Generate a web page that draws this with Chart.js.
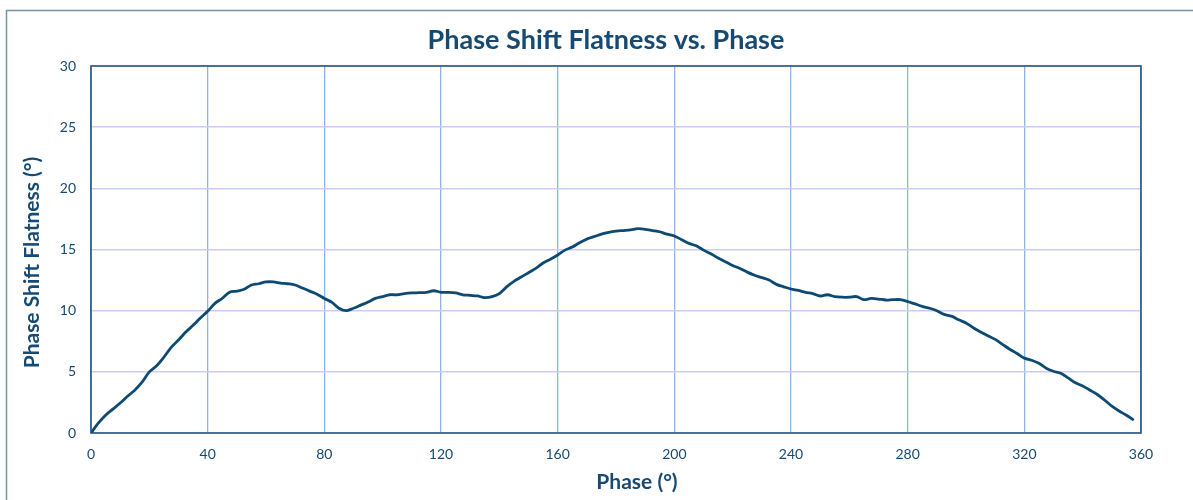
<!DOCTYPE html>
<html>
<head>
<meta charset="utf-8">
<script src="https://cdn.jsdelivr.net/npm/chart.js@4/dist/chart.umd.min.js"></script>
<style>
  html, body { margin: 0; padding: 0; background: #fff; }
  #wrap { width: 1193px; height: 500px; }
</style>
</head>
<body>
<div id="wrap"><canvas id="phaseChart"></canvas></div>
<script>
const phase = [
  0, 2.5, 5, 7.5, 10, 12.5, 15, 17.5, 20, 22.5, 25, 27.5, 30, 32.5, 35, 37.5,
  40, 42.5, 45, 47.5, 50, 52.5, 55, 57.5, 60, 62.5, 65, 67.5, 70, 72.5, 75, 77.5,
  80, 82.5, 85, 87.5, 90, 92.5, 95, 97.5, 100, 102.5, 105, 107.5, 110, 112.5, 115, 117.5,
  120, 122.5, 125, 127.5, 130, 132.5, 135, 137.5, 140, 142.5, 145, 147.5, 150, 152.5, 155, 157.5,
  160, 162.5, 165, 167.5, 170, 172.5, 175, 177.5, 180, 182.5, 185, 187.5, 190, 192.5, 195, 197.5,
  200, 202.5, 205, 207.5, 210, 212.5, 215, 217.5, 220, 222.5, 225, 227.5, 230, 232.5, 235, 237.5,
  240, 242.5, 245, 247.5, 250, 252.5, 255, 257.5, 260, 262.5, 265, 267.5, 270, 272.5, 275, 277.5,
  280, 282.5, 285, 287.5, 290, 292.5, 295, 297.5, 300, 302.5, 305, 307.5, 310, 312.5, 315, 317.5,
  320, 322.5, 325, 327.5, 330, 332.5, 335, 337.5, 340, 342.5, 345, 347.5, 350, 352.5, 355, 357.5
]
const flatness = [
  0, 0.8, 1.45, 1.95, 2.45, 3.0, 3.5, 4.15, 5.0, 5.5, 6.2, 7.0, 7.6, 8.25, 8.8, 9.4,
  9.95, 10.6, 11.0, 11.5, 11.6, 11.75, 12.1, 12.2, 12.35, 12.35, 12.25, 12.2, 12.1, 11.85, 11.6, 11.35,
  11.0, 10.7, 10.2, 10.0, 10.2, 10.45, 10.7, 11.0, 11.15, 11.3, 11.3, 11.4, 11.45, 11.47, 11.5, 11.63,
  11.5, 11.5, 11.45, 11.3, 11.25, 11.2, 11.07, 11.15, 11.4, 11.95, 12.4, 12.75, 13.1, 13.45, 13.9, 14.2,
  14.55, 14.95, 15.2, 15.55, 15.85, 16.05, 16.25, 16.4, 16.5, 16.55, 16.6, 16.7, 16.65, 16.55, 16.45, 16.25,
  16.1, 15.8, 15.5, 15.3, 14.95, 14.65, 14.3, 14.0, 13.7, 13.45, 13.15, 12.9, 12.7, 12.5, 12.15, 11.95,
  11.77, 11.65, 11.5, 11.4, 11.2, 11.3, 11.15, 11.1, 11.1, 11.15, 10.9, 11.0, 10.95, 10.87, 10.9, 10.9,
  10.75, 10.55, 10.35, 10.2, 10.0, 9.7, 9.55, 9.25, 9.0, 8.6, 8.25, 7.95, 7.65, 7.25, 6.85, 6.5,
  6.12, 5.95, 5.7, 5.3, 5.05, 4.88, 4.5, 4.1, 3.85, 3.5, 3.15, 2.7, 2.2, 1.8, 1.45, 1.05
]
const xTicks = [0, 40, 80, 120, 160, 200, 240, 280, 320, 360]
const yTicks = [0, 5, 10, 15, 20, 25, 30]
const xTitle = 'Phase (°)'
const yTitle = 'Phase Shift Flatness (°)'

const textColor = '#174a72'
const fontName = 'Lato'

// frame round the whole chart, dark box round the plot, and the two axis titles
// (drawn here because in the original they sit off-centre from the plot)
const frames = {
  id: 'frames',
  beforeDraw(chart) {
    const ctx = chart.ctx
    ctx.save()
    ctx.fillStyle = '#fff'
    ctx.fillRect(0, 0, chart.width, chart.height)
    ctx.strokeStyle = '#6f95ad'
    ctx.lineWidth = 1.5
    ctx.strokeRect(6.5, 10.5, chart.width + 50, chart.height + 50)
    ctx.restore()
  },
  afterDraw(chart) {
    const a = chart.chartArea
    const ctx = chart.ctx
    ctx.save()
    ctx.strokeStyle = '#1f4e79'
    ctx.lineWidth = 1.5
    ctx.strokeRect(a.left, a.top, a.right - a.left, a.bottom - a.top)

    ctx.fillStyle = textColor
    ctx.font = 'bold 21px ' + fontName
    ctx.textAlign = 'center'
    ctx.textBaseline = 'middle'
    ctx.fillText(xTitle, a.left + (a.right - a.left) * 0.52, chart.height - 18)

    ctx.translate(32, (a.top + a.bottom) / 2 + 13)
    ctx.rotate(-Math.PI / 2)
    ctx.fillText(yTitle, 0, 0)
    ctx.restore()
  }
}

const ctx = document.getElementById('phaseChart').getContext('2d')

new Chart(ctx, {
  type: 'line',
  data: {
    datasets: [{
      label: 'Phase Shift Flatness',
      data: phase.map((p, i) => ({ x: p, y: flatness[i] })),
      borderColor: '#0c4a74',
      borderWidth: 2.8,
      pointRadius: 0,
      tension: 0.35,
      fill: false
    }]
  },
  options: {
    responsive: true,
    maintainAspectRatio: false,
    animation: false,
    layout: { padding: { left: 19, right: 0, top: 0, bottom: 0 } },
    plugins: {
      legend: { display: false },
      tooltip: { enabled: false },
      title: {
        display: true,
        text: 'Phase Shift Flatness vs. Phase',
        color: textColor,
        font: { family: fontName, size: 27, weight: 'bold', lineHeight: 1.2 },
        padding: { top: 24, bottom: 9.6 }
      }
    },
    scales: {
      x: {
        type: 'linear',
        min: 0,
        max: 360,
        afterBuildTicks: s => { s.ticks = xTicks.map(v => ({ value: v })) },
        afterFit: s => { s.height = 67 },
        grid: { color: '#8fb4e3', lineWidth: 1.3, drawTicks: false },
        border: { display: false },
        ticks: {
          color: textColor,
          padding: 13,
          maxRotation: 0,
          font: { family: fontName, size: 14 }
        }
      },
      y: {
        min: 0,
        max: 30,
        afterBuildTicks: s => { s.ticks = yTicks.map(v => ({ value: v })) },
        afterFit: s => { s.width = 72 },
        grid: { color: '#cbcbf7', lineWidth: 1.5, drawTicks: false },
        border: { display: false },
        ticks: {
          color: textColor,
          padding: 15,
          font: { family: fontName, size: 14 }
        }
      },
      // empty axis that only keeps the right margin
      right: {
        type: 'linear',
        position: 'right',
        display: true,
        grid: { display: false },
        border: { display: false },
        ticks: { display: false },
        afterFit: s => { s.width = 52 }
      }
    }
  },
  plugins: [frames]
})
</script>
</body>
</html>
